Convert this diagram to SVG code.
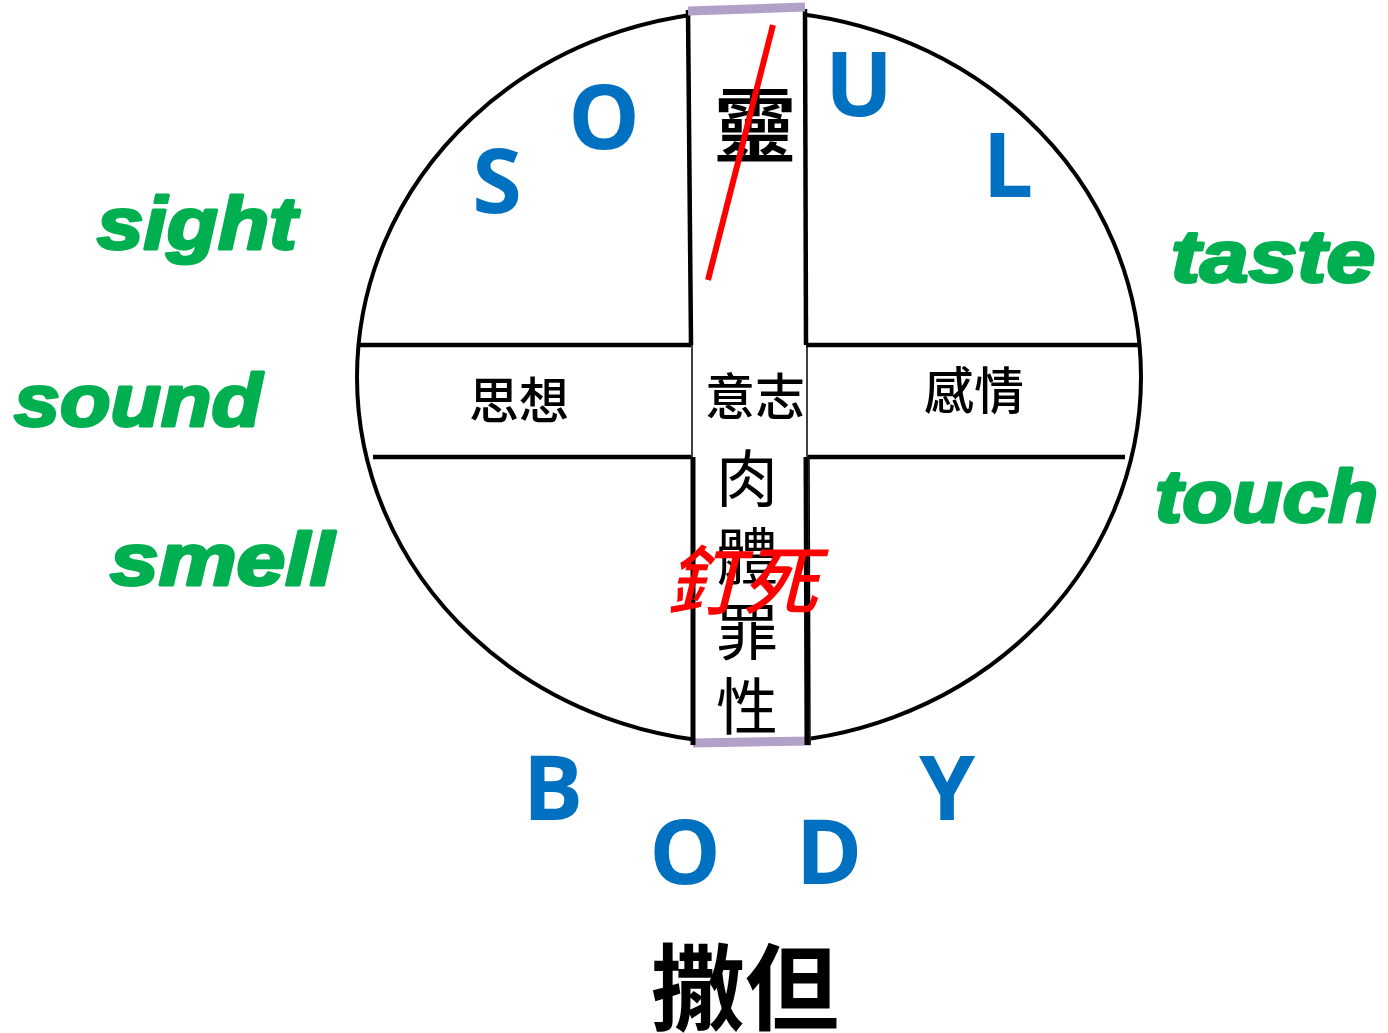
<svg xmlns="http://www.w3.org/2000/svg" width="1388" height="1033" viewBox="0 0 1388 1033">
<style>
.ln{stroke:#000;fill:none;stroke-linecap:butt}
.soul{font-family:"Open Sans","Liberation Sans",sans-serif;font-weight:700;font-size:90px;fill:#0070C0;text-anchor:middle}
.sense{font-family:"Liberation Sans",Arial,sans-serif;font-weight:700;font-style:italic;font-size:74px;fill:#00B050;stroke:#00B050;stroke-width:3;stroke-linejoin:round}
.cjk{font-family:"Noto Sans CJK TC","Noto Sans CJK SC",sans-serif;fill:#000;text-anchor:middle;dominant-baseline:central}
.pur{stroke:#B1A0C7;stroke-width:9;fill:none}
</style>
<rect width="1388" height="1033" fill="#fff"/>
<g id="connectors">
  <ellipse cx="749" cy="377" rx="392" ry="366" class="ln" stroke-width="4"/>
  <polygon points="689,12 805,10 808,742 693,742" fill="#fff"/>
  <line x1="358" y1="345" x2="691" y2="345" class="ln" stroke-width="4.5"/>
  <line x1="806" y1="345" x2="1140" y2="345" class="ln" stroke-width="4.5"/>
  <line x1="373" y1="457" x2="691" y2="457" class="ln" stroke-width="4.5"/>
  <line x1="808" y1="457" x2="1125" y2="457" class="ln" stroke-width="4.5"/>
  <line x1="688" y1="10" x2="691" y2="345" class="ln" stroke-width="4.5"/>
  <line x1="805" y1="9" x2="806" y2="345" class="ln" stroke-width="4.5"/>
  <line x1="692" y1="345" x2="692" y2="457" class="ln" stroke-width="1.5"/>
  <line x1="807" y1="345" x2="807" y2="457" class="ln" stroke-width="1.5"/>
  <line x1="693" y1="743" x2="811" y2="741" class="pur"/>
  <line x1="688" y1="11" x2="805" y2="7" class="pur"/>
  <line x1="693" y1="457" x2="693" y2="745" class="ln" stroke-width="5"/>
  <line x1="806" y1="457" x2="807" y2="745" class="ln" stroke-width="5"/>
  <line x1="809" y1="457" x2="810" y2="745" class="ln" stroke-width="1.5"/>
</g>
<g id="soul">
  <text class="soul" x="497" y="213">S</text>
  <text class="soul" x="604" y="149">O</text>
  <text class="soul" x="859" y="116">U</text>
  <text class="soul" x="1008" y="197">L</text>
</g>
<g id="body">
  <text class="soul" x="553" y="820">B</text>
  <text class="soul" x="685" y="884">O</text>
  <text class="soul" x="829" y="884">D</text>
  <text class="soul" x="947" y="820">Y</text>
</g>
<g id="senses">
  <text class="sense" x="97" y="249" textLength="200" lengthAdjust="spacingAndGlyphs">sight</text>
  <text class="sense" x="14" y="426" textLength="248" lengthAdjust="spacingAndGlyphs">sound</text>
  <text class="sense" x="110" y="585" textLength="224" lengthAdjust="spacingAndGlyphs">smell</text>
  <text class="sense" x="1171" y="282" textLength="204" lengthAdjust="spacingAndGlyphs">taste</text>
  <text class="sense" x="1155" y="522" textLength="223" lengthAdjust="spacingAndGlyphs">touch</text>
</g>
<g id="spirit">
  <text class="cjk" x="755" y="120" font-size="82" font-weight="700">靈</text>
  <line x1="773" y1="25" x2="708" y2="280" stroke="#FF0000" stroke-width="6"/>
</g>
<g id="soul-parts">
  <text class="cjk" x="519" y="397" font-size="50" font-weight="500">思想</text>
  <text class="cjk" x="755" y="393" font-size="50" font-weight="500">意志</text>
  <text class="cjk" x="974" y="387" font-size="50" font-weight="500">感情</text>
</g>
<g id="flesh">
  <text class="cjk" x="747" y="475" font-size="62">肉</text>
  <text class="cjk" x="747" y="553" font-size="62">體</text>
  <text class="cjk" x="747" y="628" font-size="62">罪</text>
  <text class="cjk" x="747" y="703" font-size="62">性</text>
  <text class="cjk" x="742" y="576" font-size="76" font-weight="500" font-style="italic" style="fill:#FF0000">釘死</text>
</g>
<g id="satan">
  <text class="cjk" x="745" y="982" font-size="94" font-weight="700">撒但</text>
</g>
</svg>
